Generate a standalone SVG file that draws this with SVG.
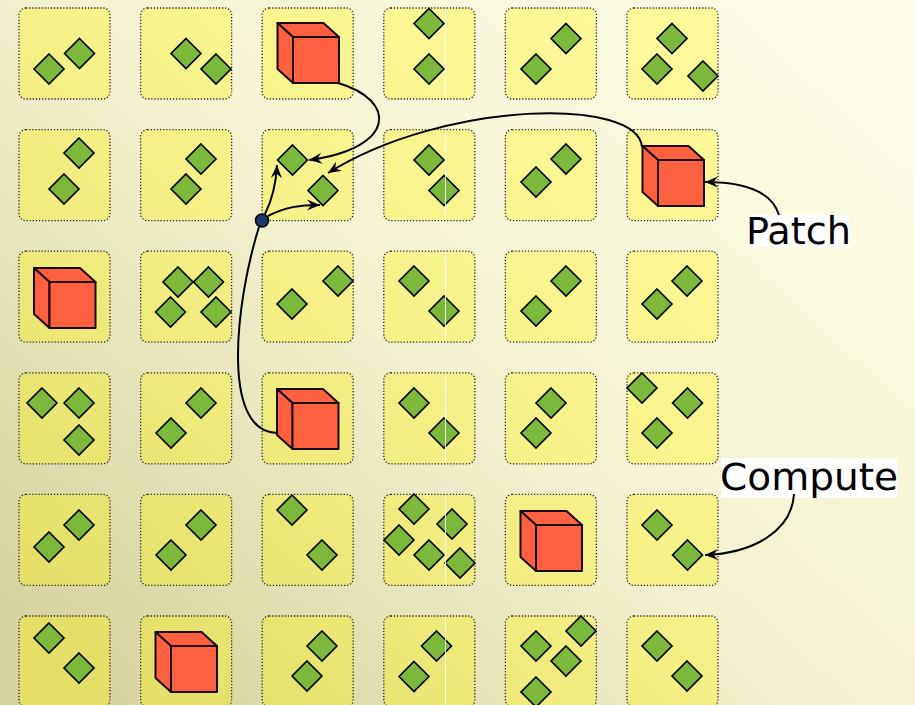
<svg xmlns="http://www.w3.org/2000/svg" xmlns:xlink="http://www.w3.org/1999/xlink" width="915" height="705" viewBox="0 0 915 705">
<defs>
<linearGradient id="bg" gradientUnits="userSpaceOnUse" x1="760" y1="0" x2="120" y2="705">
<stop offset="0" stop-color="#fefee9"/><stop offset="0.5" stop-color="#f3f1cf"/><stop offset="1" stop-color="#d7d49f"/>
</linearGradient>
<linearGradient id="tg" gradientUnits="userSpaceOnUse" x1="760" y1="0" x2="120" y2="705">
<stop offset="0" stop-color="#fffb9e"/><stop offset="0.5" stop-color="#f6f28a"/><stop offset="1" stop-color="#e2de67"/>
</linearGradient>
<path id="d" d="M0,-15 L15,0 L0,15 L-15,0 Z" fill="#7cb83c" stroke="#000" stroke-width="1.6" stroke-linejoin="miter"/>
<g id="cube" fill="#ff6040" stroke="#1a0a05" stroke-width="2" stroke-linejoin="round">
<path d="M-15.5,-14 L30.5,-14 L46,0 L0,0 Z"/>
<path d="M-15.5,-14 L0,0 L0,46 L-15.5,32 Z"/>
<rect x="0" y="0" width="46" height="46"/>
</g>
<marker id="ah" viewBox="-14 -7 15 14" refX="0" refY="0" markerWidth="15" markerHeight="14" markerUnits="userSpaceOnUse" orient="auto">
<path d="M0,0 L-13,-5.5 L-8.5,0 L-13,5.5 Z" fill="#000"/>
</marker>
</defs>
<style>
.tile{fill:url(#tg);stroke:#1e1e18;stroke-width:1.3;stroke-dasharray:1.2 1.9;}
.wl{stroke:#ffffff;stroke-width:1;opacity:0.85;}
.con{fill:none;stroke:#000;stroke-width:2;}
.lbl{font-family:"DejaVu Sans","Verdana",sans-serif;font-size:37px;fill:#000;}
</style>
<rect x="0" y="0" width="915" height="705" fill="url(#bg)"/>

<!-- Row 0 -->
<g id="t00"><rect class="tile" x="19" y="8" width="91" height="91" rx="7"/><use href="#d" x="49" y="69"/><use href="#d" x="79.5" y="53.5"/></g>
<g id="t01"><rect class="tile" x="140.6" y="8" width="91" height="91" rx="7"/><use href="#d" x="186" y="53.5"/><use href="#d" x="216" y="69"/></g>
<g id="t02"><rect class="tile" x="262.2" y="8" width="91" height="91" rx="7"/><use href="#cube" transform="translate(293,37)"/></g>
<g id="t03"><rect class="tile" x="383.8" y="8" width="91" height="91" rx="7"/><use href="#d" x="429" y="23.5"/><use href="#d" x="429" y="69"/><line class="wl" x1="445.5" y1="9" x2="445.5" y2="98"/></g>
<g id="t04"><rect class="tile" x="505.4" y="8" width="91" height="91" rx="7"/><use href="#d" x="566" y="38.5"/><use href="#d" x="536" y="69"/></g>
<g id="t05"><rect class="tile" x="627" y="8" width="91" height="91" rx="7"/><use href="#d" x="672" y="38.5"/><use href="#d" x="657" y="69"/><use href="#d" x="703" y="76"/></g>

<!-- Row 1 -->
<g id="t10"><rect class="tile" x="19" y="129.6" width="91" height="91" rx="7"/><use href="#d" x="79" y="153"/><use href="#d" x="64" y="189"/></g>
<g id="t11"><rect class="tile" x="140.6" y="129.6" width="91" height="91" rx="7"/><use href="#d" x="201" y="159"/><use href="#d" x="186" y="189"/></g>
<g id="t12"><rect class="tile" x="262.2" y="129.6" width="91" height="91" rx="7"/><use href="#d" x="292.5" y="160"/><use href="#d" x="323" y="190.5"/></g>
<g id="t13"><rect class="tile" x="383.8" y="129.6" width="91" height="91" rx="7"/><use href="#d" x="429" y="160"/><use href="#d" x="444" y="190.5"/><line class="wl" x1="445.5" y1="130.6" x2="445.5" y2="219.6"/></g>
<g id="t14"><rect class="tile" x="505.4" y="129.6" width="91" height="91" rx="7"/><use href="#d" x="566" y="159"/><use href="#d" x="536" y="182"/></g>
<g id="t15"><rect class="tile" x="627" y="129.6" width="91" height="91" rx="7"/><use href="#cube" transform="translate(658,160)"/></g>

<!-- Row 2 -->
<g id="t20"><rect class="tile" x="19" y="251.2" width="91" height="91" rx="7"/><use href="#cube" transform="translate(49.5,282)"/></g>
<g id="t21"><rect class="tile" x="140.6" y="251.2" width="91" height="91" rx="7"/><use href="#d" x="178" y="282"/><use href="#d" x="208.5" y="282"/><use href="#d" x="170.5" y="312"/><use href="#d" x="216" y="312"/></g>
<g id="t22"><rect class="tile" x="262.2" y="251.2" width="91" height="91" rx="7"/><use href="#d" x="338" y="281"/><use href="#d" x="292" y="304"/></g>
<g id="t23"><rect class="tile" x="383.8" y="251.2" width="91" height="91" rx="7"/><use href="#d" x="414" y="281"/><use href="#d" x="444" y="311"/><line class="wl" x1="445.5" y1="252.2" x2="445.5" y2="341.2"/></g>
<g id="t24"><rect class="tile" x="505.4" y="251.2" width="91" height="91" rx="7"/><use href="#d" x="566" y="281"/><use href="#d" x="536" y="311"/></g>
<g id="t25"><rect class="tile" x="627" y="251.2" width="91" height="91" rx="7"/><use href="#d" x="687" y="281"/><use href="#d" x="657" y="304"/></g>

<!-- Row 3 -->
<g id="t30"><rect class="tile" x="19" y="372.8" width="91" height="91" rx="7"/><use href="#d" x="42" y="403"/><use href="#d" x="79" y="403"/><use href="#d" x="79" y="440"/></g>
<g id="t31"><rect class="tile" x="140.6" y="372.8" width="91" height="91" rx="7"/><use href="#d" x="201" y="403"/><use href="#d" x="171" y="433"/></g>
<g id="t32"><rect class="tile" x="262.2" y="372.8" width="91" height="91" rx="7"/><use href="#cube" transform="translate(292.5,403)"/></g>
<g id="t33"><rect class="tile" x="383.8" y="372.8" width="91" height="91" rx="7"/><use href="#d" x="414" y="403"/><use href="#d" x="444" y="433"/><line class="wl" x1="445.5" y1="373.8" x2="445.5" y2="462.8"/></g>
<g id="t34"><rect class="tile" x="505.4" y="372.8" width="91" height="91" rx="7"/><use href="#d" x="551" y="403"/><use href="#d" x="536" y="433"/></g>
<g id="t35"><rect class="tile" x="627" y="372.8" width="91" height="91" rx="7"/><use href="#d" x="642" y="388"/><use href="#d" x="687.5" y="403"/><use href="#d" x="657" y="433"/></g>

<!-- Row 4 -->
<g id="t40"><rect class="tile" x="19" y="494.4" width="91" height="91" rx="7"/><use href="#d" x="79" y="525"/><use href="#d" x="49" y="547"/></g>
<g id="t41"><rect class="tile" x="140.6" y="494.4" width="91" height="91" rx="7"/><use href="#d" x="201" y="525"/><use href="#d" x="171" y="555"/></g>
<g id="t42"><rect class="tile" x="262.2" y="494.4" width="91" height="91" rx="7"/><use href="#d" x="292" y="510"/><use href="#d" x="322" y="555"/></g>
<g id="t43"><rect class="tile" x="383.8" y="494.4" width="91" height="91" rx="7"/><use href="#d" x="414" y="509"/><use href="#d" x="452" y="524"/><use href="#d" x="399" y="540"/><use href="#d" x="429" y="555"/><use href="#d" x="460" y="563"/><line class="wl" x1="445.5" y1="495.4" x2="445.5" y2="584.4"/></g>
<g id="t44"><rect class="tile" x="505.4" y="494.4" width="91" height="91" rx="7"/><use href="#cube" transform="translate(536,525)"/></g>
<g id="t45"><rect class="tile" x="627" y="494.4" width="91" height="91" rx="7"/><use href="#d" x="657" y="525"/><use href="#d" x="687.5" y="555"/></g>

<!-- Row 5 -->
<g id="t50"><rect class="tile" x="19" y="616" width="91" height="91" rx="7"/><use href="#d" x="49" y="638"/><use href="#d" x="79" y="668"/></g>
<g id="t51"><rect class="tile" x="140.6" y="616" width="91" height="91" rx="7"/><use href="#cube" transform="translate(171,646)"/></g>
<g id="t52"><rect class="tile" x="262.2" y="616" width="91" height="91" rx="7"/><use href="#d" x="322" y="646"/><use href="#d" x="307" y="676"/></g>
<g id="t53"><rect class="tile" x="383.8" y="616" width="91" height="91" rx="7"/><use href="#d" x="436.5" y="646"/><use href="#d" x="414" y="676.5"/><line class="wl" x1="445.5" y1="617" x2="445.5" y2="705"/></g>
<g id="t54"><rect class="tile" x="505.4" y="616" width="91" height="91" rx="7"/><use href="#d" x="536" y="646"/><use href="#d" x="581" y="631"/><use href="#d" x="566" y="661"/><use href="#d" x="536" y="692"/></g>
<g id="t55"><rect class="tile" x="627" y="616" width="91" height="91" rx="7"/><use href="#d" x="657" y="646"/><use href="#d" x="687" y="676"/></g>

<!-- Labels -->
<g id="patch"><rect x="747.5" y="215" width="101" height="32" fill="#fff"/><text class="lbl" x="746" y="244" textLength="105" lengthAdjust="spacingAndGlyphs">Patch</text></g>
<g id="compute"><rect x="721" y="458" width="176" height="40" fill="#fff"/><text class="lbl" x="720" y="489.5" textLength="178" lengthAdjust="spacingAndGlyphs">Compute</text></g>

<!-- Connectors -->
<g id="connectors">
<path class="con" d="M338,83 C397,100 397,148 309,160" marker-end="url(#ah)"/>
<path class="con" d="M642,147 C638,97 445,100 328,173" marker-end="url(#ah)"/>
<path class="con" d="M259,227 C236,300 220,432 277,433"/>
<path class="con" d="M265,214 C272,200 276,185 277,165" marker-end="url(#ah)"/>
<path class="con" d="M268,216 C285,207 300,205 320,205" marker-end="url(#ah)"/>
<path class="con" d="M779,215 C772,192 745,182 705,182" marker-end="url(#ah)"/>
<path class="con" d="M794,494 C792,530 755,553 705,555" marker-end="url(#ah)"/>
<circle cx="262" cy="220.5" r="6.5" fill="#173a6a" stroke="#000" stroke-width="1.5"/>
</g>
</svg>
